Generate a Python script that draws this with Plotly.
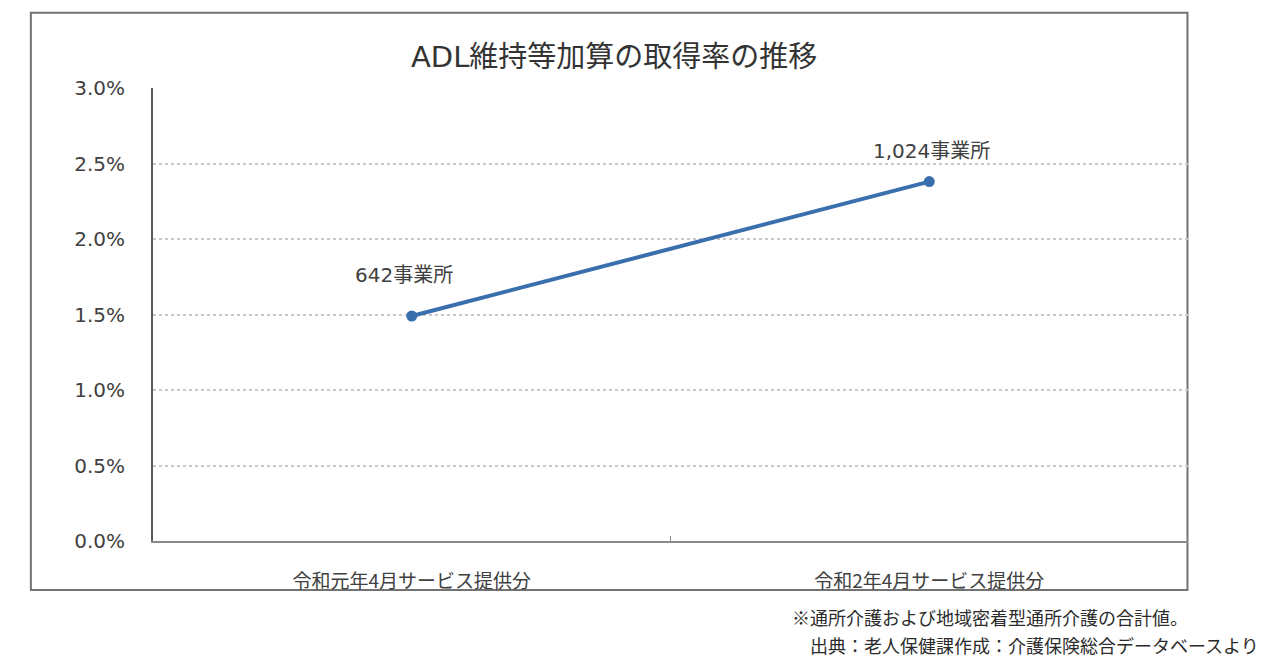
"""
ADL維持等加算の取得率の推移 - line chart recreated with Plotly.
"""
import plotly.graph_objects as go

categories = ["令和元年4月サービス提供分", "令和2年4月サービス提供分"]
rates = [0.0149, 0.0238]
office_labels = ["642事業所", "1,024事業所"]
y_ticks = [0.0, 0.005, 0.01, 0.015, 0.02, 0.025, 0.03]

title_text = "ADL維持等加算の取得率の推移"
note_lines = [
    "※通所介護および地域密着型通所介護の合計値。",
    "　出典：老人保健課作成：介護保険総合データベースより",
]

CJK = "Noto Sans CJK JP"
MIXED = "DejaVu Sans, Noto Sans CJK JP"
TEXT_COLOR = "#404040"
LINE_COLOR = "#3a6fae"

fig = go.Figure()
fig.add_trace(go.Scatter(
    x=categories, y=rates,
    mode="lines+markers",
    line=dict(color=LINE_COLOR, width=4),
    marker=dict(color=LINE_COLOR, size=11),
    hoverinfo="x+y",
    showlegend=False,
))

# labels above the points (pixel offsets from each point)
offsets = [(-8, 41), (2, 31)]
for cat, val, lab, (dx, dy) in zip(categories, rates, office_labels, offsets):
    fig.add_annotation(x=cat, y=val, text=lab, showarrow=False,
                       xshift=dx, yshift=dy,
                       font=dict(family=MIXED, size=20, color=TEXT_COLOR))

fig.add_annotation(x=0.445, y=1.068, xref="paper", yref="paper",
                   text=title_text, showarrow=False, yanchor="middle",
                   font=dict(family=MIXED, size=29, color="#333333"))

# footnote below the frame
fig.add_annotation(x=0.6155, y=-0.168, xref="paper", yref="paper",
                   text=note_lines[0], showarrow=False, xanchor="left",
                   yanchor="middle",
                   font=dict(family=CJK, size=18, color="#2b2b2b"))
fig.add_annotation(x=0.6155, y=-0.2296, xref="paper", yref="paper",
                   text=note_lines[1], showarrow=False, xanchor="left",
                   yanchor="middle",
                   font=dict(family=CJK, size=18, color="#2b2b2b"))

# outer frame of the chart
fig.add_shape(type="rect", xref="paper", yref="paper",
              x0=-0.118, x1=0.9995, y0=-0.108, y1=1.166,
              line=dict(color="#737373", width=2), layer="below")

fig.update_xaxes(
    type="category", range=[-0.5, 1.5],
    showline=True, linecolor="#8a8a8a", linewidth=2,
    ticks="inside", tickson="boundaries", ticklen=5, tickcolor="#8a8a8a",
    showgrid=False, ticklabelstandoff=22,
    tickfont=dict(family=CJK, size=19, color=TEXT_COLOR),
)
fig.update_yaxes(
    range=[0, 0.03], tickvals=y_ticks, tickformat=".1%",
    showline=True, linecolor="#595959", linewidth=2,
    showgrid=True, gridcolor="#c8c8c8", gridwidth=1.5, griddash="dot",
    zeroline=False, ticks="", ticklabelstandoff=22,
    tickfont=dict(family=MIXED, size=20, color=TEXT_COLOR),
)

# page body adds an 8px offset, so margins are shifted by that amount
fig.update_layout(
    width=1280, height=671,
    margin=dict(l=145, r=100, t=80, b=138),
    paper_bgcolor="white", plot_bgcolor="white",
    font=dict(family=MIXED, color=TEXT_COLOR),
)

fig.write_html("out.html")
